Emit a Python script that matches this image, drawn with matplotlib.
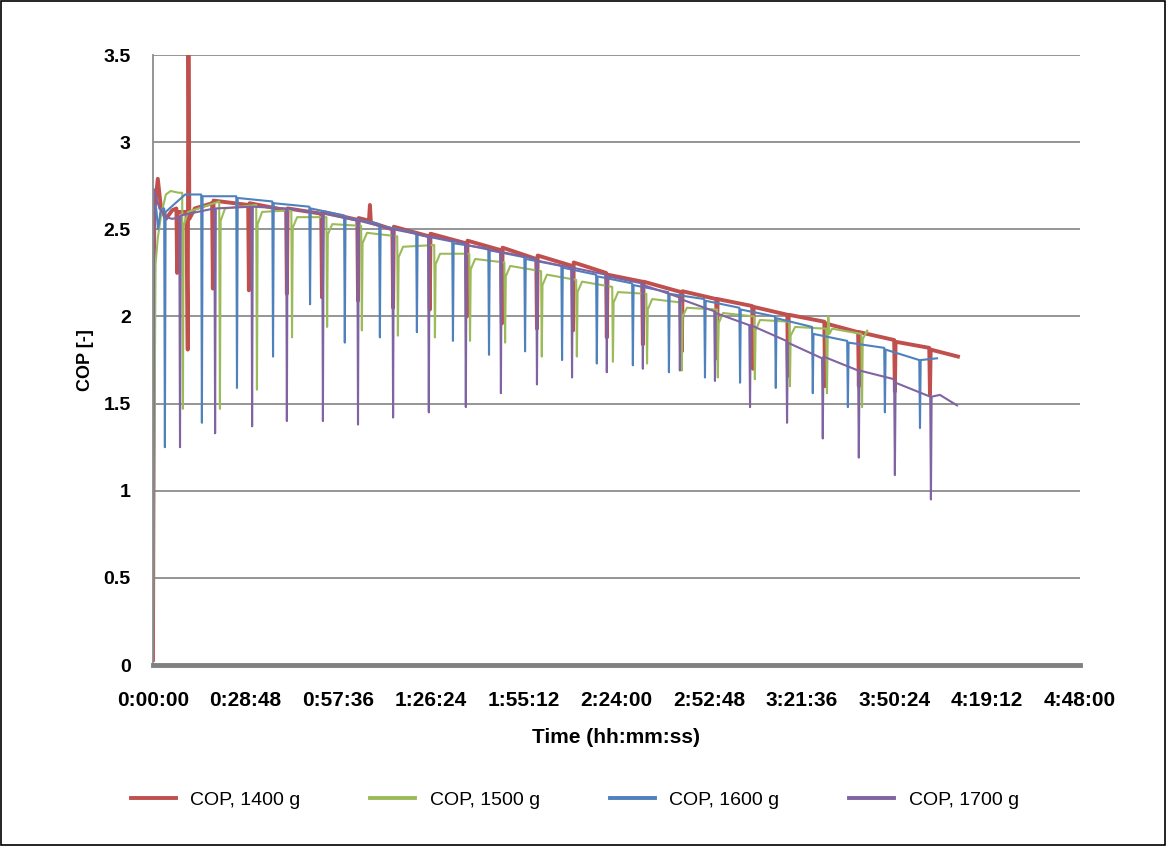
import matplotlib
matplotlib.use("Agg")
import matplotlib.pyplot as plt
from matplotlib.patches import Rectangle
from matplotlib.lines import Line2D
import numpy as np

# ---------------- data (time in minutes, COP [-]) ----------------
x_tick_labels = ["0:00:00", "0:28:48", "0:57:36", "1:26:24", "1:55:12", "2:24:00",
                 "2:52:48", "3:21:36", "3:50:24", "4:19:12", "4:48:00"]
y_ticks = [0, 0.5, 1, 1.5, 2, 2.5, 3, 3.5]
y_tick_labels = ["0", "0.5", "1", "1.5", "2", "2.5", "3", "3.5"]
series_names = ["COP, 1400 g", "COP, 1500 g", "COP, 1600 g", "COP, 1700 g"]

# COP, 1400 g
red_extra_t = [0.0, 0.4, 1.5, 2.5, 4.0, 6.0, 10.4, 10.8, 11.0, 11.3, 13.0, 67.1, 67.4, 67.7, 250.1]
red_extra_v = [0.03, 2.60, 2.79, 2.62, 2.56, 2.61, 2.60, 1.81, 3.80, 2.56, 2.62, 2.55, 2.64, 2.54, 1.77]
red_dip_t = [7.5, 18.6, 29.8, 41.6, 52.5, 63.7, 74.6, 86.0, 97.5, 108.4, 119.3, 130.5, 141.0,
             152.2, 164.3, 175.2, 186.4, 197.3, 208.8, 219.3, 230.5, 241.4]
red_dip_pre = [2.62, 2.65, 2.64, 2.61, 2.59, 2.555, 2.50, 2.46, 2.42, 2.38, 2.33, 2.29, 2.25,
               2.20, 2.14, 2.10, 2.06, 2.01, 1.97, 1.91, 1.865, 1.82]
red_dip_min = [2.25, 2.16, 2.15, 2.13, 2.11, 2.09, 2.05, 2.04, 2.00, 1.96, 1.93, 1.92, 1.88,
               1.84, 1.80, 1.76, 1.70, 1.66, 1.60, 1.60, 1.57, 1.55]
red_dip_post = [2.60, 2.665, 2.65, 2.62, 2.60, 2.565, 2.515, 2.475, 2.435, 2.395, 2.35, 2.31, 2.24,
                2.20, 2.145, 2.10, 2.055, 2.01, 1.96, 1.91, 1.855, 1.81]

# COP, 1500 g
green_extra_t = [0.0, 0.8, 1.5, 2.5, 4.0, 5.5, 8.0, 209.8, 210.2, 222.0]
green_extra_v = [0.03, 2.30, 2.45, 2.58, 2.70, 2.72, 2.71, 2.00, 1.90, 1.91]
green_dip_t = [9.3, 20.8, 32.3, 43.2, 54.1, 64.9, 76.1, 87.6, 98.5, 109.4, 120.8, 131.7,
               142.9, 153.5, 164.3, 175.5, 187.0, 197.9, 209.4, 220.3]
green_dip_pre = [2.71, 2.66, 2.64, 2.61, 2.57, 2.52, 2.46, 2.41, 2.36, 2.31, 2.26, 2.21,
                 2.17, 2.13, 2.08, 2.04, 2.00, 1.97, 1.93, 1.90]
green_dip_min = [1.47, 1.47, 1.58, 1.88, 1.94, 1.92, 1.89, 1.88, 1.86, 1.85, 1.77, 1.77,
                 1.74, 1.73, 1.69, 1.65, 1.64, 1.60, 1.56, 1.48]
green_dip_post = [2.52, 2.55, 2.53, 2.51, 2.47, 2.42, 2.34, 2.30, 2.27, 2.23, 2.18, 2.14,
                  2.08, 2.04, 2.00, 1.96, 1.92, 1.89, 1.86, 1.87]
green_dip_rec = [2.60, 2.62, 2.60, 2.57, 2.53, 2.48, 2.40, 2.36, 2.33, 2.29, 2.24, 2.20,
                 2.14, 2.10, 2.05, 2.02, 1.98, 1.94, 1.93, 1.92]

# COP, 1600 g
blue_extra_t = [0.0, 0.3, 1.0, 1.6, 2.3, 3.2, 10.0, 243.6]
blue_extra_v = [0.03, 2.65, 2.62, 2.50, 2.60, 2.62, 2.70, 1.76]
blue_dip_t = [3.7, 15.2, 26.1, 37.3, 48.8, 59.6, 70.5, 82.0, 93.2, 104.4, 115.6, 127.1,
              137.9, 149.1, 160.3, 171.5, 182.4, 193.5, 205.0, 215.9, 227.4, 238.3]
blue_dip_pre = [2.62, 2.70, 2.69, 2.66, 2.63, 2.58, 2.53, 2.48, 2.43, 2.39, 2.34, 2.29,
                2.24, 2.19, 2.14, 2.10, 2.05, 2.00, 1.94, 1.86, 1.82, 1.75]
blue_dip_min = [1.25, 1.39, 1.59, 1.77, 2.07, 1.85, 1.88, 1.91, 1.86, 1.78, 1.80, 1.75,
                1.73, 1.72, 1.68, 1.65, 1.62, 1.59, 1.56, 1.48, 1.45, 1.36]
blue_dip_post = [2.60, 2.69, 2.68, 2.65, 2.62, 2.57, 2.52, 2.47, 2.42, 2.38, 2.33, 2.28,
                 2.23, 2.18, 2.13, 2.09, 2.04, 1.99, 1.90, 1.85, 1.81, 1.75]

# COP, 1700 g
purple_extra_t = [0.0, 0.3, 2.0, 4.0, 6.0, 244.5, 249.8]
purple_extra_v = [0.03, 2.73, 2.62, 2.57, 2.56, 1.55, 1.49]
purple_dip_t = [8.4, 19.3, 30.8, 41.6, 52.8, 63.7, 74.6, 85.7, 97.2, 108.1, 119.3, 130.2,
                141.0, 152.2, 163.7, 174.6, 185.5, 197.0, 208.1, 219.3, 230.5, 241.7]
purple_dip_pre = [2.57, 2.62, 2.63, 2.62, 2.59, 2.55, 2.50, 2.46, 2.42, 2.37, 2.33, 2.28,
                  2.24, 2.19, 2.11, 2.03, 1.95, 1.86, 1.76, 1.69, 1.64, 1.54]
purple_dip_min = [1.25, 1.33, 1.37, 1.40, 1.40, 1.38, 1.42, 1.45, 1.48, 1.56, 1.61, 1.65,
                  1.68, 1.70, 1.69, 1.63, 1.48, 1.39, 1.30, 1.19, 1.09, 0.95]
purple_dip_post = [2.58, 2.62, 2.63, 2.62, 2.59, 2.55, 2.50, 2.46, 2.41, 2.37, 2.32, 2.28,
                   2.23, 2.18, 2.10, 2.02, 1.95, 1.85, 1.77, 1.69, 1.62, 1.54]

# ---------------- styling ----------------
colors = ["#C0504D", "#9BBB59", "#4F81BD", "#8064A2"]
widths = [2.8, 1.5, 1.5, 1.5]
DIP_HALF = 0.22   # minutes, half width of each defrost dip
REC_DT = 1.6      # minutes after a dip where the recovery level is reached


def build(extra_t, extra_v, dip_t, pre, mn, post, rec=None):
    pts = list(zip(extra_t, extra_v))
    for i, (t, a, b, c) in enumerate(zip(dip_t, pre, mn, post)):
        pts += [(t - DIP_HALF, a), (t, b), (t + DIP_HALF, c)]
        if rec is not None:
            pts.append((t + REC_DT, rec[i]))
    pts.sort(key=lambda p: p[0])
    arr = np.array(pts)
    return arr[:, 0], arr[:, 1]


series = [
    build(red_extra_t, red_extra_v, red_dip_t, red_dip_pre, red_dip_min, red_dip_post),
    build(green_extra_t, green_extra_v, green_dip_t, green_dip_pre, green_dip_min,
          green_dip_post, green_dip_rec),
    build(blue_extra_t, blue_extra_v, blue_dip_t, blue_dip_pre, blue_dip_min, blue_dip_post),
    build(purple_extra_t, purple_extra_v, purple_dip_t, purple_dip_pre, purple_dip_min,
          purple_dip_post),
]


def to_min(s):
    h, m, sec = (int(p) for p in s.split(":"))
    return h * 60 + m + sec / 60.0


x_ticks = [to_min(s) for s in x_tick_labels]

FONT = "Liberation Sans"

fig = plt.figure(figsize=(11.66, 8.46), dpi=100)
ax = fig.add_axes([0.1312, 0.2139, 0.7950, 0.7210])

for (t, v), c, w in zip(series, colors, widths):
    ax.plot(t, v, color=c, lw=w, solid_joinstyle="round")

ax.set_xlim(x_ticks[0], x_ticks[-1])
ax.set_ylim(0, 3.5)
ax.set_xticks(x_ticks)
ax.set_xticklabels(x_tick_labels, fontfamily=FONT, fontweight="bold", fontsize=15)
ax.set_yticks(y_ticks)
ax.set_yticklabels(y_tick_labels, fontfamily=FONT, fontweight="bold", fontsize=14)
ax.tick_params(axis="x", length=0, pad=19)
ax.tick_params(axis="y", length=0, pad=16)

ax.yaxis.grid(True, color="#8c8c8c", lw=1.3)
ax.set_axisbelow(True)
for s in ["top", "right"]:
    ax.spines[s].set_visible(False)
ax.spines["left"].set_color("#8c8c8c")
ax.spines["left"].set_linewidth(1.3)
ax.spines["bottom"].set_color("#808080")
ax.spines["bottom"].set_linewidth(3.5)
ax.spines["bottom"].set_zorder(5)

ax.set_xlabel("Time (hh:mm:ss)", fontfamily=FONT, fontweight="bold", fontsize=15, labelpad=13)
ax.set_ylabel("COP [-]", fontfamily=FONT, fontweight="bold", fontsize=13, labelpad=7)

handles = [Line2D([0], [0], color=c, lw=max(w, 2.8)) for c, w in zip(colors, widths)]
fig.legend(handles, series_names, loc="center", bbox_to_anchor=(0.493, 0.054), ncol=4,
           frameon=False, prop={"family": FONT, "size": 14}, handlelength=2.3,
           handletextpad=0.75, columnspacing=3.6)

fig.add_artist(Rectangle((0.0009, 0.0012), 0.9982, 0.9976, transform=fig.transFigure,
                         fill=False, ec="black", lw=1.2))

fig.savefig("out.png", dpi=100)
